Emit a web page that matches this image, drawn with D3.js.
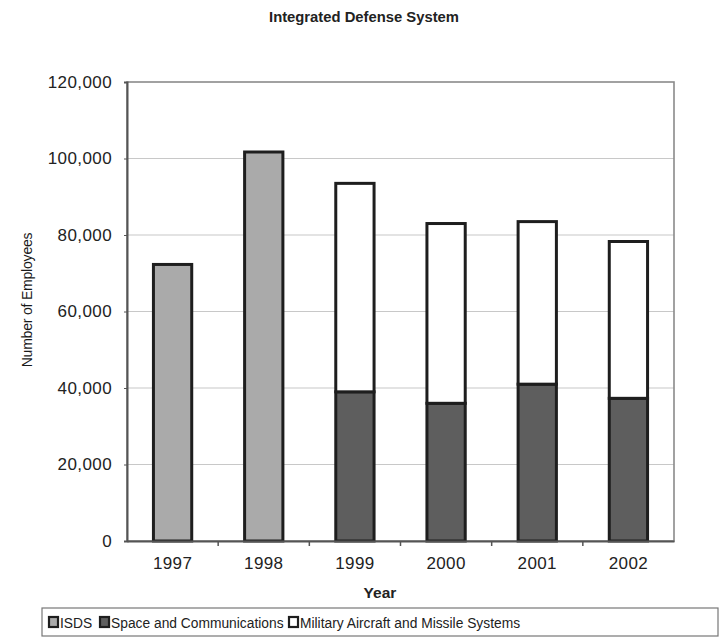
<!DOCTYPE html>
<html>
<head>
<meta charset="utf-8">
<script src="https://cdn.jsdelivr.net/npm/d3@7"></script>
<style>
  html, body { margin: 0; padding: 0; background: #fff; }
  svg { display: block; font-family: "Liberation Sans", Arial, sans-serif; }
</style>
</head>
<body>
<svg id="chart" width="728" height="637"></svg>
<script>
// Employees per year, stacked by segment
const years = ["1997", "1998", "1999", "2000", "2001", "2002"];
const isds = [72300, 101700, 0, 0, 0, 0];
const spaceComm = [0, 0, 39000, 36000, 41000, 37300];
const militaryAircraft = [0, 0, 54500, 47000, 42500, 41000];
const seriesNames = ["ISDS", "Space and Communications", "Military Aircraft and Missile Systems"];
const yTicks = [0, 20000, 40000, 60000, 80000, 100000, 120000];

const seriesColors = ["#aaaaaa", "#5e5e5e", "#ffffff"];

const svg = d3.select("#chart");
const margin = { left: 127, right: 54, top: 82, bottom: 96 };
const W = 728, H = 637;
const plotW = W - margin.left - margin.right;
const plotH = H - margin.top - margin.bottom;

const rows = years.map((y, i) => ({
  year: y, ISDS: isds[i],
  "Space and Communications": spaceComm[i],
  "Military Aircraft and Missile Systems": militaryAircraft[i]
}));
const stacked = d3.stack().keys(seriesNames)(rows);

const x = d3.scaleBand().domain(years).range([0, plotW]).paddingInner(0.58).paddingOuter(0.29);
const y = d3.scaleLinear().domain([0, 120000]).range([plotH, 0]);

const g = svg.append("g").attr("transform", `translate(${margin.left},${margin.top})`);

// Title
svg.append("text").attr("x", 364).attr("y", 22).attr("text-anchor", "middle")
  .attr("font-size", 14.8).attr("font-weight", "bold").attr("fill", "#222")
  .text("Integrated Defense System");

// Gridlines
g.append("g").selectAll("line").data(yTicks.slice(1, -1)).join("line")
  .attr("x1", 0).attr("x2", plotW)
  .attr("y1", d => y(d)).attr("y2", d => y(d))
  .attr("stroke", "#c8c8c8").attr("stroke-width", 1.2);

// Plot frame
g.append("rect").attr("x", 0).attr("y", 0).attr("width", plotW).attr("height", plotH)
  .attr("fill", "none").attr("stroke", "#8a8a8a").attr("stroke-width", 1.6);

// Bars
const layers = g.append("g").selectAll("g").data(stacked).join("g")
  .attr("fill", (d, i) => seriesColors[i]);
layers.selectAll("rect").data(d => d.filter(s => s[1] - s[0] > 0)).join("rect")
  .attr("x", d => x(d.data.year))
  .attr("width", x.bandwidth())
  .attr("y", d => y(d[1]))
  .attr("height", d => y(d[0]) - y(d[1]))
  .attr("stroke", "#1e1e1e").attr("stroke-width", 3);

// Y axis
const yAxis = g.append("g").call(d3.axisLeft(y).tickValues(yTicks).tickFormat(d3.format(",")).tickSize(3).tickPadding(12));
yAxis.select(".domain").attr("stroke", "#555").attr("stroke-width", 2);
yAxis.selectAll(".tick line").attr("stroke", "#555");
yAxis.selectAll("text").attr("font-size", 17).attr("letter-spacing", 0.4).attr("fill", "#222")
  .attr("font-family", "Liberation Sans, Arial, sans-serif");

// X axis
const xAxis = g.append("g").attr("transform", `translate(0,${plotH})`)
  .call(d3.axisBottom(x).tickSize(0).tickPadding(16));
xAxis.select(".domain").attr("stroke", "#555").attr("stroke-width", 2);
xAxis.selectAll("text").attr("font-size", 17).attr("letter-spacing", 0.4).attr("fill", "#222")
  .attr("font-family", "Liberation Sans, Arial, sans-serif");
// Category separator ticks
g.append("g").selectAll("line").data(d3.range(1, years.length)).join("line")
  .attr("x1", d => d * plotW / years.length).attr("x2", d => d * plotW / years.length)
  .attr("y1", plotH).attr("y2", plotH + 5)
  .attr("stroke", "#555").attr("stroke-width", 1.5);

// Axis titles
svg.append("text").attr("x", 380).attr("y", 598).attr("text-anchor", "middle")
  .attr("font-size", 15.5).attr("font-weight", "bold").attr("fill", "#222").text("Year");
svg.append("text").attr("transform", "translate(32,300) rotate(-90)").attr("text-anchor", "middle")
  .attr("font-size", 14).attr("letter-spacing", -0.2).attr("fill", "#1a1a1a").text("Number of Employees");

// Legend
const legend = svg.append("g");
legend.append("rect").attr("x", 42).attr("y", 608).attr("width", 676).attr("height", 28)
  .attr("fill", "#fff").attr("stroke", "#777").attr("stroke-width", 1.2);
const legendX = [48, 99, 288];
seriesNames.forEach((name, i) => {
  const item = legend.append("g").attr("transform", `translate(${legendX[i]},615)`);
  item.append("rect").attr("x", 1).attr("y", 2).attr("width", 9).attr("height", 10)
    .attr("fill", seriesColors[i]).attr("stroke", "#1e1e1e").attr("stroke-width", 2.2);
  item.append("text").attr("x", 12).attr("y", 13).attr("font-size", 13.8)
    .attr("fill", "#222").text(name);
});
</script>
</body>
</html>
